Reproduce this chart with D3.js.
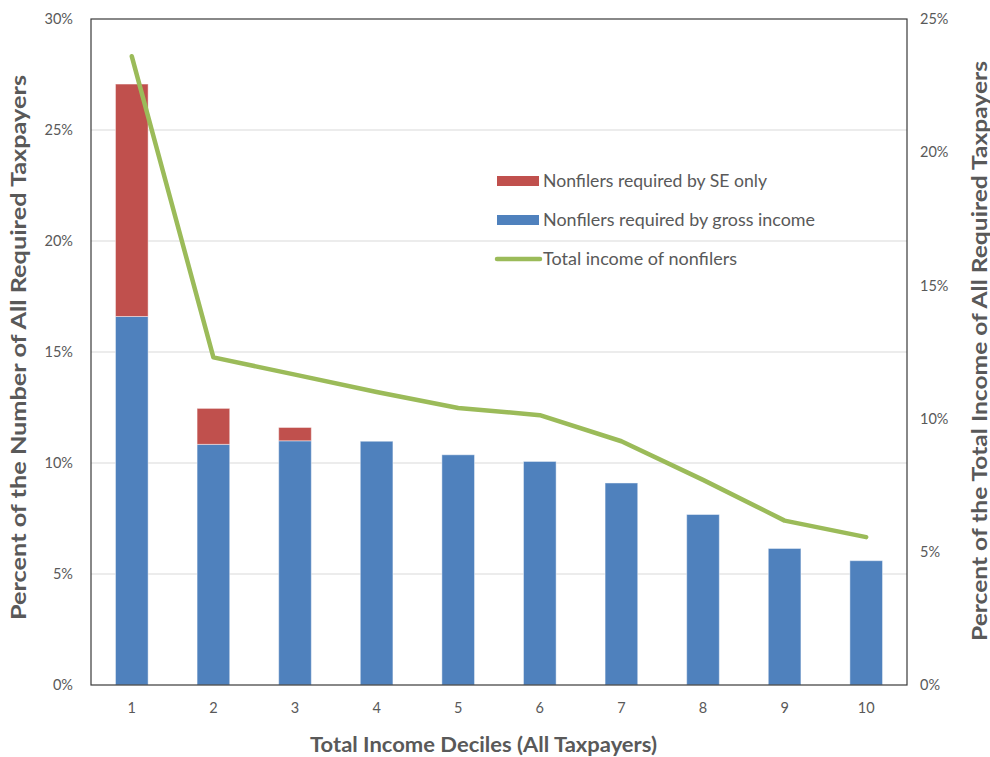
<!DOCTYPE html>
<html>
<head>
<meta charset="utf-8">
<script src="https://cdn.jsdelivr.net/npm/d3@7"></script>
<style>
  html, body { margin: 0; padding: 0; background: #fff; }
  svg { display: block; font-family: Lato, "Open Sans", sans-serif; }
</style>
</head>
<body>
<svg id="chart" width="990" height="757"></svg>
<script>
// Income deciles of all taxpayers
const deciles = ["1", "2", "3", "4", "5", "6", "7", "8", "9", "10"];
// Share of all required taxpayers (%) - nonfilers required by gross income
const grossIncome = [16.6, 10.84, 11.0, 10.98, 10.37, 10.07, 9.1, 7.68, 6.15, 5.6];
// Share of all required taxpayers (%) - nonfilers required by SE only
const seOnly = [10.47, 1.62, 0.6, 0, 0, 0, 0, 0, 0, 0];
// Share of total income of all required taxpayers (%) - nonfilers
const totalIncome = [23.6, 12.3, 11.65, 11.0, 10.4, 10.13, 9.15, 7.7, 6.17, 5.55];
// Axis ticks
const leftTicks = [0, 5, 10, 15, 20, 25, 30];
const rightTicks = [0, 5, 10, 15, 20, 25];

const svg = d3.select("#chart");
const m = { left: 91, right: 907, top: 19, bottom: 685 };
const textColor = "#595959";

const x = d3.scaleBand().domain(deciles).range([m.left, m.right]).paddingInner(0.6).paddingOuter(0.3);
const yL = d3.scaleLinear().domain([0, 30]).range([m.bottom, m.top]);
const yR = d3.scaleLinear().domain([0, 25]).range([m.bottom, m.top]);

// Gridlines
svg.append("g")
  .selectAll("line")
  .data(leftTicks.filter(d => d > 0 && d < 30))
  .join("line")
  .attr("x1", m.left).attr("x2", m.right)
  .attr("y1", d => yL(d)).attr("y2", d => yL(d))
  .attr("stroke", "#d9d9d9").attr("stroke-width", 1);

// Stacked bars
const stackData = deciles.map((d, i) => ({ decile: d, gross: grossIncome[i], se: seOnly[i] }));
const series = d3.stack().keys(["gross", "se"])(stackData);
const colors = { gross: "#4F81BD", se: "#C0504D" };

svg.append("g")
  .selectAll("g")
  .data(series)
  .join("g")
  .attr("fill", s => colors[s.key])
  .selectAll("rect")
  .data(s => s.filter(p => p[1] - p[0] > 0))
  .join("rect")
  .attr("x", p => x(p.data.decile))
  .attr("width", x.bandwidth())
  .attr("y", p => yL(p[1]))
  .attr("height", p => yL(p[0]) - yL(p[1]))
  .attr("stroke", "rgba(255,255,255,0.45)")
  .attr("stroke-width", 1);

// Total income line (right axis)
const line = d3.line()
  .x((d, i) => x(deciles[i]) + x.bandwidth() / 2)
  .y(d => yR(d));

svg.append("path")
  .datum(totalIncome)
  .attr("d", line)
  .attr("fill", "none")
  .attr("stroke", "#9BBB59")
  .attr("stroke-width", 4.5)
  .attr("stroke-linejoin", "round")
  .attr("stroke-linecap", "round");

// Plot frame
svg.append("rect")
  .attr("x", m.left).attr("y", m.top)
  .attr("width", m.right - m.left).attr("height", m.bottom - m.top)
  .attr("fill", "none").attr("stroke", "#3a3a3a").attr("stroke-width", 1.2);

// Left axis
const leftAxis = d3.axisLeft(yL).tickValues(leftTicks).tickFormat(d => d + "%").tickSize(0).tickPadding(18);
const gL = svg.append("g").attr("transform", `translate(${m.left},0)`).call(leftAxis);
gL.select(".domain").remove();
gL.selectAll("text").attr("fill", textColor).attr("font-size", 14.5).attr("font-family", "Lato, sans-serif");

// Right axis
const rightAxis = d3.axisRight(yR).tickValues(rightTicks).tickFormat(d => d + "%").tickSize(0).tickPadding(13);
const gR = svg.append("g").attr("transform", `translate(${m.right},0)`).call(rightAxis);
gR.select(".domain").remove();
gR.selectAll("text").attr("fill", textColor).attr("font-size", 14.5).attr("font-family", "Lato, sans-serif");

// Bottom axis
const bottomAxis = d3.axisBottom(x).tickSize(0).tickPadding(18);
const gB = svg.append("g").attr("transform", `translate(0,${m.bottom})`).call(bottomAxis);
gB.select(".domain").remove();
gB.selectAll("text").attr("fill", textColor).attr("font-size", 14.5).attr("font-family", "Lato, sans-serif");

// Axis titles
svg.append("text")
  .attr("x", 483.5).attr("y", 752)
  .attr("text-anchor", "middle")
  .attr("fill", textColor).attr("font-weight", "bold").attr("font-size", 20)
  .attr("textLength", 347).attr("lengthAdjust", "spacingAndGlyphs")
  .text("Total Income Deciles (All Taxpayers)");

svg.append("text")
  .attr("transform", `translate(26,347.5) rotate(-90)`)
  .attr("text-anchor", "middle")
  .attr("fill", textColor).attr("font-weight", "bold").attr("font-size", 20)
  .attr("textLength", 545).attr("lengthAdjust", "spacingAndGlyphs")
  .text("Percent of the Number of All Required Taxpayers");

svg.append("text")
  .attr("transform", `translate(987,351) rotate(-90)`)
  .attr("text-anchor", "middle")
  .attr("fill", textColor).attr("font-weight", "bold").attr("font-size", 20)
  .attr("textLength", 580).attr("lengthAdjust", "spacingAndGlyphs")
  .text("Percent of the Total Income of All Required Taxpayers");

// Legend
const legendItems = [
  { label: "Nonfilers required by SE only", type: "rect", color: "#C0504D", y: 181, w: 224 },
  { label: "Nonfilers required by gross income", type: "rect", color: "#4F81BD", y: 220, w: 272 },
  { label: "Total income of nonfilers", type: "line", color: "#9BBB59", y: 259, w: 194 }
];
const lg = svg.append("g");
legendItems.forEach(it => {
  if (it.type === "rect") {
    lg.append("rect").attr("x", 497).attr("y", it.y - 5).attr("width", 42).attr("height", 10).attr("fill", it.color);
  } else {
    lg.append("line").attr("x1", 497).attr("x2", 540).attr("y1", it.y).attr("y2", it.y)
      .attr("stroke", it.color).attr("stroke-width", 4.5).attr("stroke-linecap", "round");
  }
  lg.append("text").attr("x", 543).attr("y", it.y).attr("dy", "0.35em")
    .attr("fill", textColor).attr("font-size", 16.5)
    .attr("textLength", it.w).attr("lengthAdjust", "spacingAndGlyphs")
    .text(it.label);
});
</script>
</body>
</html>
